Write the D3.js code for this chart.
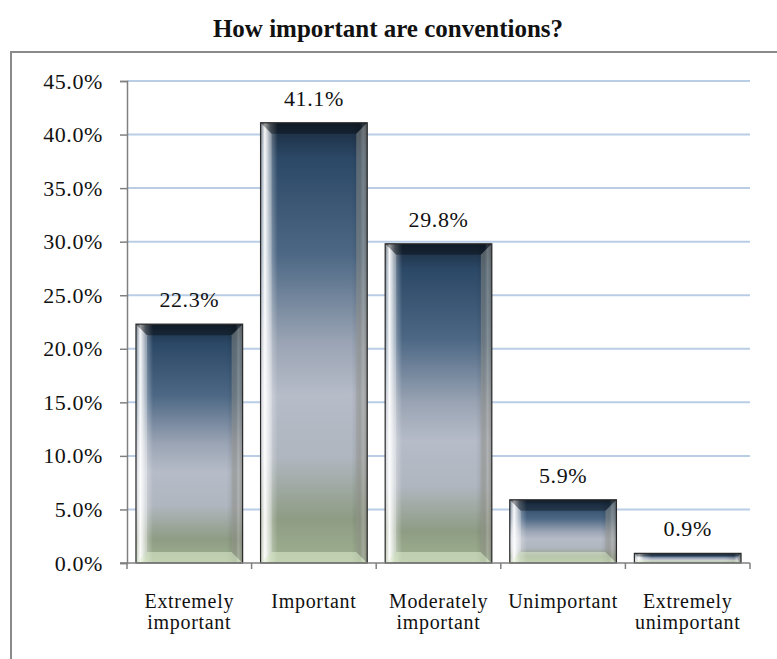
<!DOCTYPE html>
<html><head><meta charset="utf-8">
<script src="https://cdn.jsdelivr.net/npm/d3@7"></script>
<style>
html,body{margin:0;padding:0;background:#fff;}
svg{display:block;}
text{font-family:"Liberation Serif","DejaVu Serif",serif;fill:#111;}
</style></head>
<body>
<svg id="chart" width="777" height="659"></svg>
<script>
const categories = [["Extremely","important"],["Important"],["Moderately","important"],["Unimportant"],["Extremely","unimportant"]];
const values = [22.3, 41.1, 29.8, 5.9, 0.9];
const yTicks = [0,5,10,15,20,25,30,35,40,45];
const title = "How important are conventions?";

const svg = d3.select("#chart");
const W = 777, H = 659;
const m = {left:127, right:27, top:81, bottom:96};
const pw = W - m.left - m.right, ph = H - m.top - m.bottom;

// frame
svg.append("path").attr("d","M11,659 L11,52 L777,52").attr("fill","none").attr("stroke","#8a8a8a").attr("stroke-width",2);

svg.append("text").attr("x",388).attr("y",37).attr("text-anchor","middle")
  .style("font-size","25px").style("font-weight","bold").text(title);

const x = d3.scaleBand().domain(d3.range(values.length)).range([m.left, m.left+pw]).paddingInner(0.144).paddingOuter(0.072);
const y = d3.scaleLinear().domain([0,45]).range([m.top+ph, m.top]);

const defs = svg.append("defs");
const vg = defs.append("linearGradient").attr("id","vg").attr("x1",0).attr("y1",0).attr("x2",0).attr("y2",1);
[[0,"#1a2a3d"],[0.08,"#2b4866"],[0.3,"#4d6885"],[0.5,"#9aa4b4"],[0.62,"#b6bcc8"],[0.76,"#b0b6bf"],[0.9,"#8e9c84"],[1,"#9fb290"]]
  .forEach(s=>vg.append("stop").attr("offset",s[0]).attr("stop-color",s[1]));
const hg = defs.append("linearGradient").attr("id","hg").attr("x1",0).attr("y1",0).attr("x2",1).attr("y2",0);
[[0,"#fff",0.1],[0.04,"#fff",0.95],[0.09,"#fff",0.35],[0.16,"#fff",0],[0.85,"#000",0],[0.93,"#000",0.12],[0.96,"#fff",0.2],[1,"#000",0.3]]
  .forEach(s=>hg.append("stop").attr("offset",s[0]).attr("stop-color",s[1]).attr("stop-opacity",s[2]));

// gridlines
svg.append("g").selectAll("line").data(yTicks.filter(d=>d>0)).join("line")
  .attr("x1",m.left).attr("x2",m.left+pw).attr("y1",d=>y(d)).attr("y2",d=>y(d))
  .attr("stroke","#b9cde5").attr("stroke-width",2);

// y axis
const ya = svg.append("g").attr("transform",`translate(${m.left},0)`)
  .call(d3.axisLeft(y).tickValues(yTicks).tickFormat(d=>d.toFixed(1)+"%").tickSize(7).tickPadding(17));
ya.select(".domain").attr("stroke","#808080").attr("stroke-width",1.5);
ya.selectAll(".tick line").attr("stroke","#808080").attr("stroke-width",1.5);
ya.selectAll(".tick text").style("font-size","22px").style("letter-spacing","0.6px").attr("fill","#111").style("font-family",'"Liberation Serif",serif');

// bars
const bars = svg.append("g").selectAll("g").data(values).join("g");
bars.each(function(v,i){
  const g = d3.select(this);
  const bx = x(i), bw = x.bandwidth(), by = y(v), bh = y(0)-y(v);
  const b = Math.min(11, bh/3);
  g.append("rect").attr("x",bx).attr("y",by).attr("width",bw).attr("height",bh).attr("fill","url(#vg)");
  g.append("rect").attr("x",bx).attr("y",by).attr("width",bw).attr("height",bh).attr("fill","url(#hg)");
  // bevels
  g.append("polygon").attr("points",[[bx,by],[bx+bw,by],[bx+bw-b,by+b],[bx+b,by+b]].join(" ")).attr("fill","#000").attr("opacity",0.35);
  g.append("polygon").attr("points",[[bx,by+bh],[bx+bw,by+bh],[bx+bw-b,by+bh-b],[bx+b,by+bh-b]].join(" ")).attr("fill","#e4f2d4").attr("opacity",0.5);
  g.append("polygon").attr("points",[[bx,by],[bx+b,by+b],[bx+b,by+bh-b],[bx,by+bh]].join(" ")).attr("fill","#fff").attr("opacity",0.3);
  g.append("polygon").attr("points",[[bx+bw,by],[bx+bw-b,by+b],[bx+bw-b,by+bh-b],[bx+bw,by+bh]].join(" ")).attr("fill","#9a9a90").attr("opacity",0.45);
  g.append("rect").attr("x",bx).attr("y",by).attr("width",bw).attr("height",bh).attr("fill","none").attr("stroke","#2a2a2a").attr("stroke-width",1.2);
  g.append("text").attr("x",bx+bw/2).attr("y",by-17).attr("text-anchor","middle").style("font-size","22px").style("letter-spacing","0.6px").text(v.toFixed(1)+"%");
});

// x axis
const xa = svg.append("g").attr("transform",`translate(0,${y(0)})`);
xa.append("line").attr("x1",m.left-7).attr("x2",m.left+pw).attr("stroke","#808080").attr("stroke-width",1.5);
xa.selectAll(".tk").data(d3.range(values.length+1)).join("line").attr("class","tk")
  .attr("x1",i=>m.left+i*pw/values.length).attr("x2",i=>m.left+i*pw/values.length).attr("y1",0).attr("y2",6)
  .attr("stroke","#808080").attr("stroke-width",1.5);
xa.selectAll(".lbl").data(categories).join("text").attr("class","lbl")
  .attr("text-anchor","middle").style("font-size","20px").style("letter-spacing","0.7px")
  .each(function(lines,i){
    const t = d3.select(this);
    lines.forEach((l,j)=>t.append("tspan").attr("x",x(i)+x.bandwidth()/2).attr("y",45+j*21).text(l));
  });
</script>
</body></html>
